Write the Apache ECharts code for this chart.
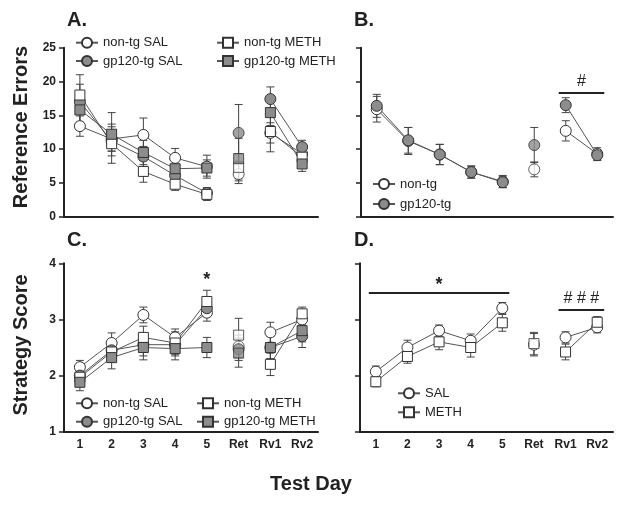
<!DOCTYPE html>
<html>
<head>
<meta charset="utf-8">
<script src="https://cdn.jsdelivr.net/npm/echarts@6/dist/echarts.min.js"></script>
<style>html,body{margin:0;padding:0;background:#fff}#chart{width:621px;height:507px}</style>
</head>
<body>
<div id="chart"></div>
<script>
var days = ['1', '2', '3', '4', '5', 'Ret', 'Rv1', 'Rv2'];

// A. reference errors, genotype x drug
var aNonSal = [13.4, 11.5, 12.1, 8.7, 7.4, 6.3, 12.4, 9.3];
var aNonSalSem = [1.5, 1.8, 2.5, 1.4, 1.7, 1.4, 1.5, 1.0];
var aGpSal = [17.0, 11.2, 8.9, 6.1, 3.5, 12.4, 17.4, 10.3];
var aGpSalSem = [4.0, 1.5, 1.5, 1.0, 0.8, 4.2, 1.8, 1.0];
var aNonMeth = [18.0, 10.8, 6.7, 4.8, 3.3, 7.3, 12.6, 8.8];
var aNonMethSem = [1.6, 2.9, 1.6, 0.9, 0.9, 2.0, 3.0, 1.2];
var aGpMeth = [15.8, 12.2, 9.5, 7.1, 7.2, 8.6, 15.4, 7.8];
var aGpMethSem = [1.8, 3.2, 1.8, 1.2, 1.2, 3.0, 1.9, 1.1];

// B. reference errors, genotype
var bNon = [15.9, 11.2, 9.2, 6.6, 5.2, 7.0, 12.7, 9.3];
var bNonSem = [1.9, 2.0, 1.5, 0.9, 0.9, 1.1, 1.5, 0.9];
var bGp = [16.4, 11.3, 9.2, 6.6, 5.1, 10.6, 16.5, 9.1];
var bGpSem = [1.7, 1.9, 1.5, 0.9, 0.8, 2.6, 1.1, 0.8];

// C. strategy score, genotype x drug
var cNonSal = [2.15, 2.58, 3.08, 2.68, 3.12, 2.52, 2.77, 3.0];
var cNonSalSem = [0.12, 0.18, 0.14, 0.15, 0.15, 0.2, 0.18, 0.15];
var cGpSal = [2.0, 2.45, 2.55, 2.55, 3.2, 2.47, 2.5, 2.7];
var cGpSalSem = [0.1, 0.15, 0.2, 0.2, 0.15, 0.2, 0.2, 0.2];
var cNonMeth = [1.97, 2.42, 2.68, 2.58, 3.32, 2.72, 2.2, 3.1];
var cNonMethSem = [0.1, 0.15, 0.2, 0.2, 0.2, 0.3, 0.2, 0.12];
var cGpMeth = [1.88, 2.32, 2.5, 2.48, 2.5, 2.4, 2.5, 2.8];
var cGpMethSem = [0.15, 0.2, 0.22, 0.2, 0.18, 0.25, 0.2, 0.2];

// D. strategy score, drug
var dSal = [2.07, 2.5, 2.8, 2.62, 3.2, 2.55, 2.68, 2.86];
var dSalSem = [0.1, 0.13, 0.1, 0.12, 0.1, 0.2, 0.1, 0.1];
var dMeth = [1.89, 2.34, 2.6, 2.5, 2.94, 2.57, 2.42, 2.95];
var dMethSem = [0.09, 0.12, 0.14, 0.17, 0.15, 0.2, 0.14, 0.1];

// significance marks: [grid, from, to, y, text]
var sigB = [1, 'Rv1', 'Rv2', 18.3, '#'];
var sigC = [2, '5', '5', 3.76, '*'];
var sigDStar = [3, '1', '5', 3.47, '*'];
var sigDHash = [3, 'Rv1', 'Rv2', 3.17, '# # #'];

var FONT = 'Liberation Sans';
var INK = '#222';
var GRAY = '#8c8c8c';

var chart = echarts.init(document.getElementById('chart'));

function errorBarItem(params, api) {
    var x = api.value(0);
    var lo = api.coord([x, api.value(1)]);
    var hi = api.coord([x, api.value(2)]);
    var w = 4;
    var st = { stroke: '#444', lineWidth: 1 };
    return {
        type: 'group',
        children: [
            { type: 'line', shape: { x1: hi[0], y1: hi[1], x2: lo[0], y2: lo[1] }, style: st },
            { type: 'line', shape: { x1: hi[0] - w, y1: hi[1], x2: hi[0] + w, y2: hi[1] }, style: st },
            { type: 'line', shape: { x1: lo[0] - w, y1: lo[1], x2: lo[0] + w, y2: lo[1] }, style: st }
        ]
    };
}

// one group = error bars + connected line + lone Ret point
function groupSeries(name, grid, means, sems, symbol, fill) {
    var err = means.map(function (m, i) { return [i, m - sems[i], m + sems[i]]; });
    var lineData = means.map(function (m, i) { return i === 5 ? '-' : m; });
    var style = { color: fill, borderColor: '#333', borderWidth: 1 };
    var size = symbol === 'rect' ? 10 : 11;
    return [{
        type: 'custom', name: name + ' sem', xAxisIndex: grid, yAxisIndex: grid,
        renderItem: errorBarItem, data: err, z: 1, silent: true,
        encode: { x: 0, y: [1, 2] }
    }, {
        type: 'line', name: name, xAxisIndex: grid, yAxisIndex: grid,
        data: lineData, symbol: symbol, symbolSize: size, showAllSymbol: true,
        lineStyle: { color: '#555', width: 1 }, itemStyle: style, z: 3, animation: false
    }, {
        type: 'scatter', name: name + ' ret', xAxisIndex: grid, yAxisIndex: grid,
        data: [[5, means[5]]], symbol: symbol, symbolSize: size, itemStyle: style, z: 3
    }];
}

var grids = [
    { left: 64, top: 47.7, width: 254, height: 169 },
    { left: 361, top: 47.7, width: 252, height: 169 },
    { left: 64, top: 263.3, width: 254, height: 168.4 },
    { left: 360, top: 263.3, width: 253, height: 168.4 }
];

function xAxisFor(i, labels) {
    return {
        type: 'category', gridIndex: i, data: days, boundaryGap: true,
        axisLine: { lineStyle: { color: INK, width: 2 } },
        axisTick: { alignWithLabel: true, length: 5, lineStyle: { color: INK, width: 1.5 } },
        axisLabel: { show: labels, margin: 7, color: INK, fontFamily: FONT, fontWeight: 'bold', fontSize: 12 }
    };
}
function yAxisFor(i, min, max, step, labels) {
    return {
        type: 'value', gridIndex: i, min: min, max: max, interval: step,
        splitLine: { show: false },
        axisLine: { show: true, lineStyle: { color: INK, width: 2 } },
        axisTick: { show: true, length: 5, lineStyle: { color: INK, width: 1.5 } },
        axisLabel: { show: labels, margin: 8, color: INK, fontFamily: FONT, fontWeight: 'bold', fontSize: 12 }
    };
}

function legendAt(left, top, names, gap) {
    return {
        orient: 'vertical', left: left, top: top, padding: 0, itemGap: gap,
        itemWidth: 22, itemHeight: 12.5, data: names, selectedMode: false,
        textStyle: { fontFamily: FONT, fontSize: 13, color: INK, lineHeight: 14 }
    };
}

var series = [].concat(
    groupSeries('non-tg SAL', 0, aNonSal, aNonSalSem, 'circle', '#fff'),
    groupSeries('gp120-tg SAL', 0, aGpSal, aGpSalSem, 'circle', GRAY),
    groupSeries('non-tg METH', 0, aNonMeth, aNonMethSem, 'rect', '#fff'),
    groupSeries('gp120-tg METH', 0, aGpMeth, aGpMethSem, 'rect', GRAY),
    groupSeries('non-tg', 1, bNon, bNonSem, 'circle', '#fff'),
    groupSeries('gp120-tg', 1, bGp, bGpSem, 'circle', GRAY),
    groupSeries('non-tg SAL', 2, cNonSal, cNonSalSem, 'circle', '#fff'),
    groupSeries('gp120-tg SAL', 2, cGpSal, cGpSalSem, 'circle', GRAY),
    groupSeries('non-tg METH', 2, cNonMeth, cNonMethSem, 'rect', '#fff'),
    groupSeries('gp120-tg METH', 2, cGpMeth, cGpMethSem, 'rect', GRAY),
    groupSeries('SAL', 3, dSal, dSalSem, 'circle', '#fff'),
    groupSeries('METH', 3, dMeth, dMethSem, 'rect', '#fff')
);

chart.setOption({
    animation: false,
    textStyle: { fontFamily: FONT },
    grid: grids,
    xAxis: [xAxisFor(0, false), xAxisFor(1, false), xAxisFor(2, true), xAxisFor(3, true)],
    yAxis: [yAxisFor(0, 0, 25, 5, true), yAxisFor(1, 0, 25, 5, false),
            yAxisFor(2, 1, 4, 1, true), yAxisFor(3, 1, 4, 1, false)],
    legend: [
        legendAt(75, 35.7, ['non-tg SAL', 'gp120-tg SAL'], 4.3),
        legendAt(216, 35.7, ['non-tg METH', 'gp120-tg METH'], 4.3),
        legendAt(75, 396.3, ['non-tg SAL', 'gp120-tg SAL'], 4.4),
        legendAt(196, 396.3, ['non-tg METH', 'gp120-tg METH'], 4.4),
        legendAt(372, 177, ['non-tg', 'gp120-tg'], 6),
        legendAt(397, 386.3, ['SAL', 'METH'], 5)
    ],
    series: series
});

// annotation lines / text, placed through the axes
function sigMark(s) {
    var a = chart.convertToPixel({ gridIndex: s[0] }, [days.indexOf(s[1]), s[3]]);
    var b = chart.convertToPixel({ gridIndex: s[0] }, [days.indexOf(s[2]), s[3]]);
    var star = s[4] === '*';
    var font = star ? 'bold 18px "' + FONT + '"' : '16px "' + FONT + '"';
    var out = [];
    var ty = a[1] + (star ? 3 : 0);
    if (s[1] !== s[2]) {
        out.push({ type: 'line', shape: { x1: a[0] - 7, y1: a[1], x2: b[0] + 7, y2: b[1] },
            style: { stroke: INK, lineWidth: 2 } });
        ty -= 11;
    }
    out.push({ type: 'text', x: (a[0] + b[0]) / 2, y: ty,
        style: { text: s[4], font: font, fill: INK, align: 'center', verticalAlign: 'middle' } });
    return out;
}

var titleFont = 'bold 20px "' + FONT + '"';
var graphics = [
    { type: 'text', x: 67, y: 20, style: { text: 'A.', font: titleFont, fill: INK, verticalAlign: 'middle' } },
    { type: 'text', x: 354, y: 20, style: { text: 'B.', font: titleFont, fill: INK, verticalAlign: 'middle' } },
    { type: 'text', x: 67, y: 240, style: { text: 'C.', font: titleFont, fill: INK, verticalAlign: 'middle' } },
    { type: 'text', x: 354, y: 240, style: { text: 'D.', font: titleFont, fill: INK, verticalAlign: 'middle' } },
    { type: 'text', x: 21, y: 127, rotation: Math.PI / 2,
      style: { text: 'Reference Errors', font: titleFont, fill: INK, align: 'center', verticalAlign: 'middle' } },
    { type: 'text', x: 21, y: 345, rotation: Math.PI / 2,
      style: { text: 'Strategy Score', font: titleFont, fill: INK, align: 'center', verticalAlign: 'middle' } },
    { type: 'text', x: 311, y: 484,
      style: { text: 'Test Day', font: titleFont, fill: INK, align: 'center', verticalAlign: 'middle' } }
].concat(sigMark(sigB), sigMark(sigC), sigMark(sigDStar), sigMark(sigDHash));

chart.setOption({ graphic: graphics });
</script>
</body>
</html>
